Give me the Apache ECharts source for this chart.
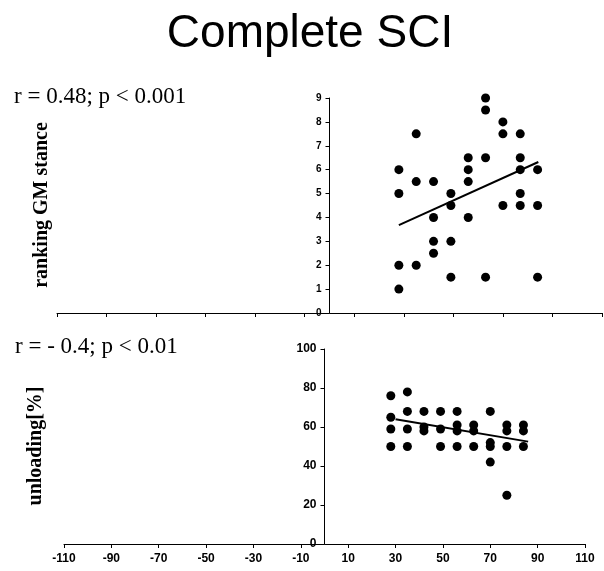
<!DOCTYPE html>
<html>
<head>
<meta charset="utf-8">
<script src="https://cdn.jsdelivr.net/npm/echarts@6/dist/echarts.min.js"></script>
<style>
  html, body { margin: 0; padding: 0; background: #fff; }
  #chart { width: 604px; height: 571px; }
</style>
</head>
<body>
<div id="chart"></div>
<script>
// ranking GM stance (top panel)
var rankingX = [28, 28, 28, 28, 35, 35, 35, 42, 42, 42, 42, 49, 49, 49, 49, 56, 56, 56, 56,
                63, 63, 63, 63, 70, 70, 70, 77, 77, 77, 77, 77, 84, 84, 84];
var rankingY = [6, 5, 2, 1, 7.5, 5.5, 2, 5.5, 4, 3, 2.5, 5, 4.5, 3, 1.5, 6.5, 6, 5.5, 4,
                9, 8.5, 6.5, 1.5, 8, 7.5, 4.5, 7.5, 6.5, 6, 5, 4.5, 6, 4.5, 1.5];
var rankingFit = [[28, 3.68], [84.3, 6.32]];

// unloading [%] (bottom panel)
var unloadingX = [28, 28, 28, 28, 35, 35, 35, 35, 42, 42, 42, 49, 49, 49, 56, 56, 56, 56,
                  63, 63, 63, 70, 70, 70, 70, 77, 77, 77, 77, 84, 84, 84];
var unloadingY = [76, 65, 59, 50, 78, 68, 59, 50, 68, 60, 58, 68, 59, 50, 68, 61, 58, 50,
                  61, 58, 50, 68, 52, 50, 42, 61, 58, 50, 25, 61, 58, 50];
var unloadingFit = [[30, 64], [86, 52.5]];

var titleText = 'Complete SCI';
var statsTop = 'r = 0.48; p < 0.001';
var statsBottom = 'r = - 0.4; p < 0.01';
var nameTop = 'ranking GM stance';
var nameBottom = 'unloading[%]';

function pairs(xs, ys) {
    var out = [];
    for (var i = 0; i < xs.length; i++) out.push([xs[i], ys[i]]);
    return out;
}

var sans = '"Liberation Sans", Arial, sans-serif';
var serif = '"Liberation Serif", "Times New Roman", serif';

function xAxisOpt(idx, showLabel) {
    return {
        gridIndex: idx, type: 'value', min: -110, max: 110, interval: 20,
        axisLine: { onZero: false, lineStyle: { color: '#000', width: 1 } },
        axisTick: { show: true, length: 4, lineStyle: { color: '#000' } },
        axisLabel: { show: showLabel, color: '#000', fontFamily: sans, fontWeight: 'bold', fontSize: 12, margin: 9 },
        splitLine: { show: false }
    };
}

// y axis sits at x = 0; shift it there from the grid's left edge
function yAxisOpt(idx, max, interval, fs, shift) {
    return {
        gridIndex: idx, type: 'value', min: 0, max: max, interval: interval,
        offset: -shift,
        axisLine: { show: true, onZero: false, lineStyle: { color: '#000', width: 1 } },
        axisTick: { show: true, length: 4, lineStyle: { color: '#000' } },
        axisLabel: { color: '#000', fontFamily: sans, fontWeight: 'bold', fontSize: fs, margin: 8 },
        splitLine: { show: false }
    };
}

var myChart = echarts.init(document.getElementById('chart'));
myChart.setOption({
    backgroundColor: '#fff',
    animation: false,
    grid: [
        { left: 57, right: 2, top: 98, bottom: 258 },
        { left: 64, right: 19, top: 349, bottom: 27 }
    ],
    xAxis: [xAxisOpt(0, false), xAxisOpt(1, true)],
    yAxis: [yAxisOpt(0, 9, 1, 10, 272.5), yAxisOpt(1, 100, 20, 12, 260.5)],
    graphic: [
        { type: 'text', x: 310, y: 34, style: { text: titleText, font: '46px ' + sans, fill: '#000', textAlign: 'center', textVerticalAlign: 'middle' } },
        { type: 'text', x: 14, y: 97, style: { text: statsTop, font: '23px ' + serif, fill: '#000', textAlign: 'left', textVerticalAlign: 'middle' } },
        { type: 'text', x: 15, y: 347, style: { text: statsBottom, font: '23px ' + serif, fill: '#000', textAlign: 'left', textVerticalAlign: 'middle' } },
        { type: 'text', x: 42, y: 205, rotation: Math.PI / 2, style: { text: nameTop, font: 'bold 20px ' + serif, fill: '#000', textAlign: 'center', textVerticalAlign: 'middle' } },
        { type: 'text', x: 36, y: 446, rotation: Math.PI / 2, style: { text: nameBottom, font: 'bold 20px ' + serif, fill: '#000', textAlign: 'center', textVerticalAlign: 'middle' } }
    ],
    series: [
        {
            type: 'scatter', xAxisIndex: 0, yAxisIndex: 0, symbolSize: 9,
            itemStyle: { color: '#000', opacity: 1 }, data: pairs(rankingX, rankingY)
        },
        {
            type: 'line', xAxisIndex: 0, yAxisIndex: 0, symbol: 'none',
            lineStyle: { color: '#000', width: 2 }, data: rankingFit
        },
        {
            type: 'scatter', xAxisIndex: 1, yAxisIndex: 1, symbolSize: 9,
            itemStyle: { color: '#000', opacity: 1 }, data: pairs(unloadingX, unloadingY)
        },
        {
            type: 'line', xAxisIndex: 1, yAxisIndex: 1, symbol: 'none',
            lineStyle: { color: '#000', width: 2 }, data: unloadingFit
        }
    ]
});
</script>
</body>
</html>
